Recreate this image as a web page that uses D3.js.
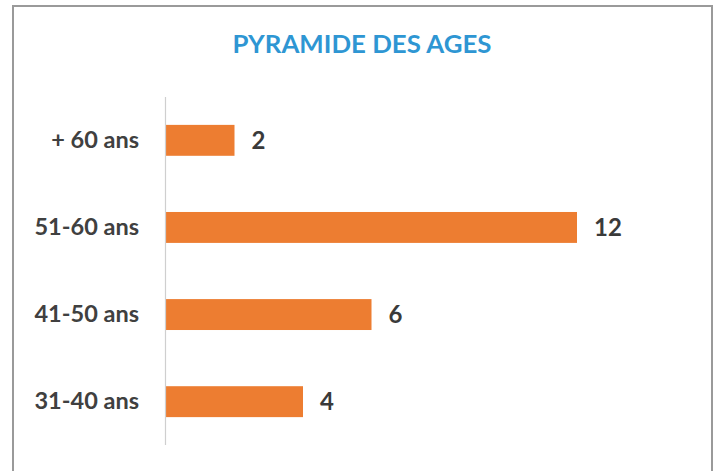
<!DOCTYPE html>
<html><head><meta charset="utf-8">
<script src="https://cdn.jsdelivr.net/npm/d3@7"></script>
<style>body{margin:0;background:#fff}</style>
</head><body>
<script>
const categories = ["+ 60 ans","51-60 ans","41-50 ans","31-40 ans"];
const values = [2,12,6,4];
const title = "PYRAMIDE DES AGES";

const W=717,H=471;
const svg=d3.select("body").append("svg").attr("width",W).attr("height",H);
svg.append("rect").attr("x",13).attr("y",6).attr("width",699).attr("height",480)
  .attr("fill","#fff").attr("stroke","#9a9a9a").attr("stroke-width",2);

svg.append("text").attr("x",362).attr("y",53).attr("text-anchor","middle")
  .attr("font-family","Lato, 'Open Sans', sans-serif").attr("font-weight","bold")
  .attr("font-size",25).attr("textLength",259).attr("lengthAdjust","spacingAndGlyphs")
  .attr("fill","#2E96D3").text(title);

const x0=166;
const x=d3.scaleLinear().domain([0,12]).range([x0,577]);
const y=d3.scaleBand().domain(categories).range([97,445]).paddingInner(0.645).paddingOuter(0.32);

svg.selectAll("rect.bar").data(categories).enter().append("rect").attr("class","bar")
  .attr("x",x(0)).attr("y",d=>y(d)).attr("height",y.bandwidth())
  .attr("width",(d,i)=>x(values[i])-x(0)).attr("fill","#ED7D31");

svg.append("line").attr("x1",x0-0.5).attr("x2",x0-0.5).attr("y1",97).attr("y2",445)
  .attr("stroke","#cfcfcf").attr("stroke-width",1.2);

const yAxis=d3.axisLeft(y).tickSize(0).tickPadding(27);
const ga=svg.append("g").attr("transform",`translate(${x0},0)`).call(yAxis);
ga.select(".domain").remove();
ga.selectAll("text").attr("font-family","Lato, 'Open Sans', sans-serif").attr("font-weight","bold")
  .attr("font-size",23.5).attr("fill","#404040");

svg.selectAll("text.val").data(categories).enter().append("text").attr("class","val")
  .attr("x",(d,i)=>x(values[i])+17).attr("y",d=>y(d)+y.bandwidth()/2).attr("dy","0.36em")
  .attr("font-family","Lato, 'Open Sans', sans-serif").attr("font-weight","bold")
  .attr("font-size",24).attr("fill","#3a3a3a").text((d,i)=>values[i]);
</script>
</body></html>
